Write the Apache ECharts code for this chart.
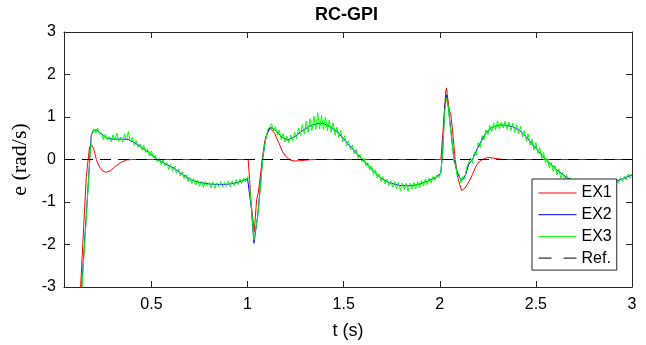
<!DOCTYPE html>
<html>
<head>
<meta charset="utf-8">
<script src="https://cdn.jsdelivr.net/npm/echarts@6/dist/echarts.min.js"></script>
<style>html,body{margin:0;padding:0;background:#fff;}#c{width:646px;height:345px;}</style>
</head>
<body>
<div id="c"></div>
<script>
// ---- data (t in s, e in rad/s) ----
const xTickValues = [0.5, 1, 1.5, 2, 2.5, 3];
const xTickLabels = ['0.5', '1', '1.5', '2', '2.5', '3'];
const yTickValues = [-3, -2, -1, 0, 1, 2, 3];

const ex1 = [
  [0.128,-3.3],[0.161,-0.4],[0.178,0.3],[0.189,0.34],[0.20,0.25],[0.213,0],[0.23,-0.18],[0.25,-0.28],
  [0.265,-0.30],[0.285,-0.27],[0.31,-0.17],[0.34,-0.07],[0.37,-0.01],[0.40,0],[1.003,0],[1.008,-0.3],
  [1.02,-1.1],[1.035,-1.70],[1.047,-0.95],[1.055,-0.8],[1.065,-0.45],[1.078,0.07],[1.09,0.45],[1.104,0.65],
  [1.121,0.73],[1.14,0.62],[1.164,0.38],[1.18,0.2],[1.199,0.07],[1.22,-0.01],[1.242,-0.035],[1.27,-0.03],
  [1.31,-0.01],[1.35,0],[2.006,0],[2.022,1.0],[2.031,1.6],[2.035,1.68],[2.041,1.45],[2.05,1.15],[2.057,1.08],
  [2.065,0.75],[2.074,0.3],[2.08,0],[2.095,-0.45],[2.113,-0.73],[2.13,-0.68],[2.152,-0.52],[2.17,-0.35],
  [2.187,-0.17],[2.205,-0.05],[2.222,0],[2.248,0.05],[2.28,0.03],[2.33,0],[3.0,0]
];

const ex2 = [
  [0.136,-3.1],[0.187,0.58],[0.20,0.68],[0.215,0.70],[0.23,0.64],[0.25,0.56],[0.27,0.50],[0.30,0.48],
  [0.35,0.48],[0.38,0.47],[0.41,0.40],[0.445,0.30],[0.49,0.15],[0.532,0],[0.575,-0.11],[0.618,-0.21],
  [0.66,-0.35],[0.705,-0.48],[0.75,-0.54],[0.81,-0.58],[0.86,-0.59],[0.90,-0.58],[0.94,-0.55],[0.97,-0.51],
  [1.0,-0.45],[1.008,-0.42],[1.02,-1.16],[1.033,-1.97],[1.052,-1.35],[1.065,-0.7],[1.078,0],[1.095,0.5],
  [1.112,0.73],[1.125,0.75],[1.15,0.67],[1.18,0.52],[1.208,0.46],[1.24,0.52],[1.28,0.66],[1.32,0.78],
  [1.36,0.84],[1.39,0.85],[1.42,0.80],[1.468,0.65],[1.52,0.38],[1.56,0.18],[1.598,0],[1.64,-0.2],
  [1.693,-0.44],[1.74,-0.55],[1.79,-0.61],[1.832,-0.62],[1.88,-0.60],[1.936,-0.51],[1.98,-0.42],[2.005,-0.33],
  [2.015,0.2],[2.025,1.2],[2.035,1.52],[2.045,1.2],[2.052,0.93],[2.062,0.5],[2.074,0],[2.09,-0.3],
  [2.105,-0.44],[2.118,-0.48],[2.135,-0.35],[2.15,-0.12],[2.17,0],[2.2,0.3],[2.239,0.62],[2.27,0.75],
  [2.31,0.81],[2.34,0.81],[2.38,0.77],[2.42,0.67],[2.456,0.5],[2.50,0.27],[2.551,0],[2.61,-0.25],
  [2.665,-0.44],[2.72,-0.54],[2.78,-0.58],[2.84,-0.58],[2.90,-0.53],[2.95,-0.46],[3.0,-0.36]
];

const ex3 = [
  [0.137,-3.15],[0.15,-2.15],[0.16,-1.45],[0.17,-0.70],[0.18,0.05],[0.19,0.62],[0.20,0.72],[0.21,0.62],
  [0.22,0.74],[0.23,0.58],[0.24,0.63],[0.25,0.47],[0.26,0.60],[0.27,0.46],[0.28,0.54],[0.29,0.42],
  [0.30,0.58],[0.31,0.47],[0.32,0.62],[0.33,0.43],[0.34,0.53],[0.35,0.41],[0.36,0.60],[0.37,0.46],
  [0.38,0.66],[0.39,0.43],[0.40,0.52],[0.41,0.34],[0.42,0.45],[0.43,0.29],[0.44,0.37],[0.45,0.22],
  [0.46,0.34],[0.47,0.16],[0.48,0.24],[0.49,0.08],[0.50,0.20],[0.51,0.04],[0.52,0.10],[0.53,-0.06],
  [0.54,0.03],[0.55,-0.12],[0.56,0.0],[0.57,-0.15],[0.58,-0.07],[0.59,-0.24],[0.60,-0.12],[0.61,-0.27],
  [0.62,-0.15],[0.63,-0.33],[0.64,-0.22],[0.65,-0.39],[0.66,-0.29],[0.67,-0.45],[0.68,-0.35],[0.69,-0.52],
  [0.70,-0.42],[0.71,-0.57],[0.72,-0.45],[0.73,-0.60],[0.74,-0.48],[0.75,-0.63],[0.76,-0.51],[0.77,-0.66],
  [0.78,-0.52],[0.79,-0.62],[0.80,-0.54],[0.81,-0.67],[0.82,-0.53],[0.83,-0.68],[0.84,-0.55],[0.85,-0.64],
  [0.86,-0.52],[0.87,-0.65],[0.88,-0.54],[0.89,-0.63],[0.90,-0.51],[0.91,-0.64],[0.92,-0.50],[0.93,-0.61],
  [0.94,-0.47],[0.95,-0.59],[0.96,-0.46],[0.97,-0.56],[0.98,-0.43],[0.99,-0.52],[1.00,-0.40],[1.008,-0.45],
  [1.02,-1.15],[1.033,-1.90],[1.043,-1.60],[1.052,-1.38],[1.065,-0.75],[1.078,-0.02],[1.087,0.30],[1.095,0.48],
  [1.105,0.70],[1.115,0.66],[1.125,0.84],[1.135,0.66],[1.145,0.77],[1.155,0.57],[1.165,0.69],[1.175,0.47],
  [1.185,0.61],[1.195,0.41],[1.205,0.55],[1.215,0.40],[1.225,0.58],[1.235,0.44],[1.245,0.64],[1.255,0.49],
  [1.265,0.74],[1.275,0.57],[1.285,0.82],[1.295,0.60],[1.305,0.90],[1.315,0.64],[1.325,0.96],[1.335,0.68],
  [1.345,1.02],[1.355,0.70],[1.365,1.10],[1.375,0.72],[1.385,1.04],[1.395,0.70],[1.405,1.00],[1.415,0.68],
  [1.425,0.93],[1.435,0.64],[1.445,0.86],[1.455,0.58],[1.465,0.76],[1.475,0.52],[1.485,0.68],[1.495,0.42],
  [1.505,0.56],[1.515,0.32],[1.525,0.44],[1.535,0.23],[1.545,0.34],[1.555,0.13],[1.565,0.24],[1.575,0.03],
  [1.585,0.12],[1.595,-0.05],[1.605,0.03],[1.615,-0.15],[1.625,-0.07],[1.635,-0.25],[1.645,-0.15],[1.655,-0.35],
  [1.665,-0.24],[1.675,-0.44],[1.685,-0.34],[1.695,-0.52],[1.705,-0.40],[1.715,-0.57],[1.725,-0.46],[1.735,-0.61],
  [1.745,-0.50],[1.755,-0.65],[1.765,-0.52],[1.775,-0.69],[1.785,-0.54],[1.795,-0.73],[1.805,-0.55],[1.815,-0.71],
  [1.825,-0.56],[1.835,-0.75],[1.845,-0.56],[1.855,-0.70],[1.865,-0.54],[1.875,-0.69],[1.885,-0.52],[1.895,-0.67],
  [1.905,-0.49],[1.915,-0.62],[1.925,-0.46],[1.935,-0.59],[1.945,-0.43],[1.955,-0.55],[1.965,-0.40],[1.975,-0.49],
  [1.985,-0.36],[1.995,-0.43],[2.005,-0.32],[2.015,0.15],[2.025,1.10],[2.035,1.45],[2.045,1.25],[2.052,0.85],
  [2.062,0.52],[2.074,-0.05],[2.082,-0.10],[2.09,-0.38],[2.10,-0.32],[2.11,-0.55],[2.12,-0.40],[2.13,-0.45],
  [2.14,-0.18],[2.15,-0.20],[2.16,0.04],[2.17,-0.08],[2.18,0.18],[2.19,0.10],[2.20,0.40],[2.21,0.28],
  [2.22,0.56],[2.23,0.46],[2.24,0.70],[2.25,0.58],[2.26,0.80],[2.27,0.66],[2.28,0.86],[2.29,0.70],
  [2.30,0.91],[2.31,0.72],[2.32,0.88],[2.33,0.74],[2.34,0.90],[2.35,0.72],[2.36,0.88],[2.37,0.68],
  [2.38,0.86],[2.39,0.64],[2.40,0.82],[2.41,0.60],[2.42,0.78],[2.43,0.54],[2.44,0.68],[2.45,0.44],
  [2.46,0.60],[2.47,0.34],[2.48,0.48],[2.49,0.22],[2.50,0.40],[2.51,0.14],[2.52,0.28],[2.53,0.02],
  [2.54,0.16],[2.55,-0.08],[2.56,0.03],[2.57,-0.20],[2.58,-0.07],[2.59,-0.28],[2.60,-0.14],[2.61,-0.36],
  [2.62,-0.22],[2.63,-0.44],[2.64,-0.30],[2.65,-0.50],[2.66,-0.36],[2.67,-0.56],[2.68,-0.42],[2.69,-0.60],
  [2.70,-0.45],[2.71,-0.62],[2.72,-0.48],[2.73,-0.64],[2.74,-0.50],[2.75,-0.65],[2.76,-0.52],[2.77,-0.66],
  [2.78,-0.53],[2.79,-0.67],[2.80,-0.54],[2.81,-0.67],[2.82,-0.53],[2.83,-0.66],[2.84,-0.52],[2.85,-0.65],
  [2.86,-0.51],[2.87,-0.63],[2.88,-0.50],[2.89,-0.61],[2.90,-0.48],[2.91,-0.59],[2.92,-0.46],[2.93,-0.56],
  [2.94,-0.42],[2.95,-0.52],[2.96,-0.39],[2.97,-0.48],[2.98,-0.34],[2.99,-0.44],[3.00,-0.34]
];

const refLine = [[0.045, 0], [3.0, 0]];

// ---- chart ----
const FONT = 'Liberation Sans, Arial, Helvetica, sans-serif';
const AX = '#262626';
const chart = echarts.init(document.getElementById('c'), null, {renderer: 'canvas'});

const commonX = {
  type: 'value', min: 0.045, max: 3,
  splitLine: {show: false},
  axisLine: {show: true, onZero: false, lineStyle: {color: AX, width: 1}},
  axisTick: {show: true, inside: true, length: 6, customValues: xTickValues, lineStyle: {color: AX}},
  minorTick: {show: false}
};
const commonY = {
  type: 'value', min: -3, max: 3, interval: 1,
  splitLine: {show: false},
  axisLine: {show: true, onZero: false, lineStyle: {color: AX, width: 1}},
  axisTick: {show: true, inside: true, length: 6, customValues: yTickValues, lineStyle: {color: AX}}
};

chart.setOption({
  animation: false,
  backgroundColor: '#ffffff',
  title: {
    text: 'RC-GPI', left: 315, top: 6, padding: 0,
    textStyle: {fontFamily: FONT, fontSize: 18, fontWeight: 'bold', color: '#000'}
  },
  grid: {left: 64, right: 14, top: 32, bottom: 58, containLabel: false},
  legend: {
    orient: 'vertical', left: 532, top: 179,
    padding: [6, 5, 4, 6],
    itemWidth: 38, itemHeight: 16, itemGap: 5.7,
    backgroundColor: '#ffffff', borderColor: '#262626', borderWidth: 1,
    itemStyle: {opacity: 0},
    lineStyle: {width: 1},
    textStyle: {fontFamily: FONT, fontSize: 16, color: '#000'},
    data: [
      {name: 'EX1'}, {name: 'EX2'}, {name: 'EX3'},
      {name: 'Ref.', lineStyle: {type: [13, 12], width: 1}}
    ]
  },
  xAxis: [
    Object.assign({}, commonX, {
      position: 'bottom',
      name: 't (s)', nameLocation: 'middle', nameGap: 35,
      nameTextStyle: {fontFamily: FONT, fontSize: 18, color: '#000'},
      axisLabel: {show: true, margin: 10, customValues: xTickValues,
        formatter: v => xTickLabels[xTickValues.indexOf(+v.toFixed(3))] ?? '',
        fontFamily: FONT, fontSize: 16, color: '#000'}
    }),
    Object.assign({}, commonX, {position: 'top', axisLabel: {show: false}})
  ],
  yAxis: [
    Object.assign({}, commonY, {
      position: 'left',
      name: 'e (rad/s)', nameLocation: 'middle', nameGap: 25, nameRotate: 90,
      nameTextStyle: {fontFamily: 'Liberation Serif, Times New Roman, serif', fontSize: 22, color: '#000'},
      axisLabel: {show: true, margin: 8, fontFamily: FONT, fontSize: 16, color: '#000'}
    }),
    Object.assign({}, commonY, {position: 'right', axisLabel: {show: false}})
  ],
  series: [
    {name: 'EX1', type: 'line', data: ex1, symbol: 'none', clip: true,
      lineStyle: {color: '#ff0000', width: 1}, itemStyle: {color: '#ff0000'}},
    {name: 'EX2', type: 'line', data: ex2, symbol: 'none', clip: true,
      lineStyle: {color: '#0000ff', width: 1}, itemStyle: {color: '#0000ff'}},
    {name: 'EX3', type: 'line', data: ex3, symbol: 'none', clip: true,
      lineStyle: {color: '#00ff00', width: 1}, itemStyle: {color: '#00ff00'}},
    {name: 'Ref.', type: 'line', data: refLine, symbol: 'none', clip: true,
      lineStyle: {color: '#000000', width: 1, type: [11, 7]}, itemStyle: {color: '#000000'}}
  ]
});
</script>
</body>
</html>
